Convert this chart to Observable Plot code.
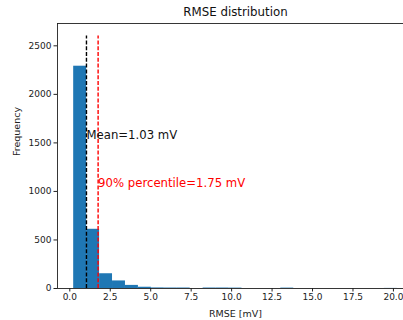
<!DOCTYPE html>
<html>
<head>
<meta charset="utf-8">
<script src="https://cdn.jsdelivr.net/npm/d3@7"></script>
<script src="https://cdn.jsdelivr.net/npm/@observablehq/plot@0.6"></script>
<style>
  html, body { margin: 0; padding: 0; background: #fff; }
  #chart { width: 403px; height: 320px; overflow: hidden; }
</style>
</head>
<body>
<div id="chart"></div>
<script>
// Histogram bin edges (mV) and counts
const binEdges = [0.24, 1.04, 1.84, 2.64, 3.44, 4.24, 5.04, 5.84, 6.64, 7.44, 8.24, 9.04, 9.84, 10.64,
                  11.44, 12.24, 13.04, 13.84, 14.64, 15.44, 16.24, 17.04, 17.84, 18.64, 19.44, 20.24];
const binCounts = [2290, 610, 152, 78, 32, 13, 6, 5, 5, 0, 5, 5, 4, 0, 0, 0, 4, 0, 0, 0, 0, 0, 0, 0, 1];
const xTicks = [0, 2.5, 5, 7.5, 10, 12.5, 15, 17.5, 20];
const yTicks = [0, 500, 1000, 1500, 2000, 2500];
const meanValue = 1.03;
const p90Value = 1.75;
const lineTop = 2600;
const titleText = "RMSE distribution";
const xLabel = "RMSE [mV]";
const yLabel = "Frequency";
const meanLabel = "Mean=1.03 mV";
const p90Label = "90% percentile=1.75 mV";

const bins = binCounts.map((c, i) => ({x1: binEdges[i], x2: binEdges[i + 1], y: c}));

const font = "DejaVu Sans, sans-serif";
const chart = Plot.plot({
  width: 403,
  height: 320,
  marginLeft: 57,
  marginRight: -10,
  marginTop: 23,
  marginBottom: 32,
  style: {fontFamily: font, fontSize: "9px", color: "#222", background: "#fff", overflow: "visible"},
  x: {domain: [-0.76, 21.24], ticks: xTicks, tickFormat: d3.format(".1f"), tickSize: 3.5, tickPadding: 2, label: null},
  y: {domain: [0, 2730], ticks: yTicks, tickFormat: d3.format("d"), tickSize: 3.5, tickPadding: 2.5, label: null},
  marks: [
    Plot.rectY(bins, {x1: "x1", x2: "x2", y: "y", fill: "#1f77b4", inset: 0}),
    Plot.ruleX([meanValue], {y1: 0, y2: lineTop, stroke: "#000", strokeWidth: 1.4, strokeDasharray: "4,1.8"}),
    Plot.ruleX([p90Value], {y1: 0, y2: lineTop, stroke: "#ff0000", strokeWidth: 1.4, strokeDasharray: "4,1.8"}),
    Plot.text([meanLabel], {x: meanValue, y: 1580, text: d => d, textAnchor: "start", lineAnchor: "middle", fill: "#111", fontSize: 11.7, fontFamily: font}),
    Plot.text([p90Label], {x: p90Value, y: 1080, text: d => d, textAnchor: "start", lineAnchor: "middle", fill: "#ff0000", fontSize: 11.7, fontFamily: font}),
    Plot.frame({stroke: "#222", strokeWidth: 0.9}),
    Plot.text([titleText], {frameAnchor: "top", dy: -11, text: d => d, lineAnchor: "middle", fontSize: 11.8, fill: "#111", fontFamily: font}),
    Plot.text([xLabel], {frameAnchor: "bottom", dy: 25, text: d => d, lineAnchor: "middle", fontSize: 9.5, fill: "#222", fontFamily: font}),
    Plot.text([yLabel], {frameAnchor: "left", dx: -41, rotate: -90, text: d => d, lineAnchor: "middle", fontSize: 9.5, fill: "#222", fontFamily: font})
  ]
});
document.getElementById("chart").appendChild(chart);
</script>
</body>
</html>
